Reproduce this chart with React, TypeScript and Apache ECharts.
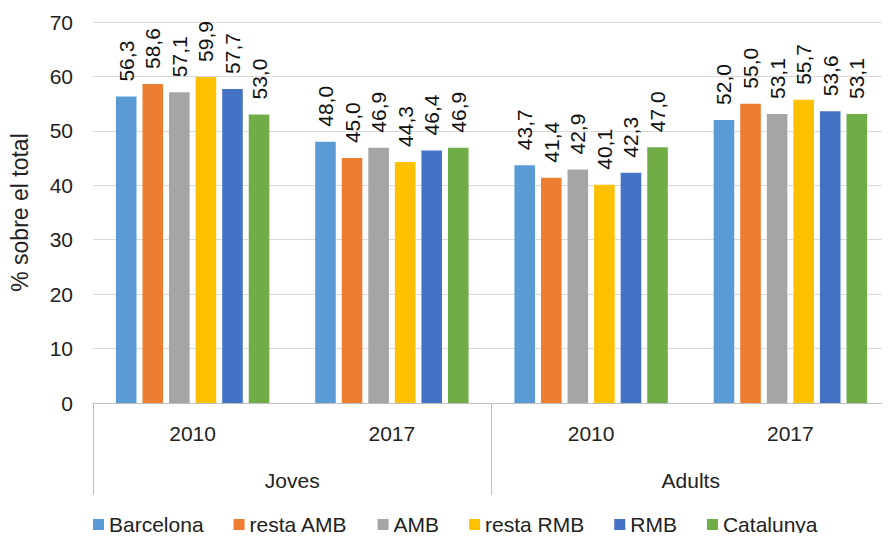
import React, { useEffect, useRef } from "react";
import * as echarts from "echarts";

const years = ["2010", "2017", "2010", "2017"];
const groups = ["Joves", "Adults"];
const seriesNames = ["Barcelona", "resta AMB", "AMB", "resta RMB", "RMB", "Catalunya"];
const colors = ["#5B9BD5", "#ED7D31", "#A5A5A5", "#FFC000", "#4472C4", "#70AD47"];
const barcelona = [56.3, 48.0, 43.7, 52.0];
const restaAMB = [58.6, 45.0, 41.4, 55.0];
const amb = [57.1, 46.9, 42.9, 53.1];
const restaRMB = [59.9, 44.3, 40.1, 55.7];
const rmb = [57.7, 46.4, 42.3, 53.6];
const catalunya = [53.0, 46.9, 47.0, 53.1];
const values = [barcelona, restaAMB, amb, restaRMB, rmb, catalunya];

const FONT = "Liberation Sans";

export default function App() {
  const ref = useRef<HTMLDivElement>(null);
  useEffect(() => {
    if (!ref.current) return;
    const chart = echarts.init(ref.current, null, { renderer: "svg" });
    chart.setOption({
      animation: false,
      textStyle: { fontFamily: FONT },
      grid: { left: 90, top: 22, width: 814, height: 381 },
      legend: {
        top: 509,
        left: 88,
        itemWidth: 11,
        itemHeight: 11,
        itemGap: 30,
        textStyle: { fontSize: 21, color: "#222", fontFamily: FONT },
        data: seriesNames.map((n) => ({ name: n, icon: "rect" })),
      },
      xAxis: [
        {
          type: "category",
          data: years,
          axisLine: { lineStyle: { color: "#BFBFBF", width: 1 } },
          axisTick: { show: false },
          axisLabel: { fontSize: 21, color: "#222", margin: 20 },
        },
        {
          type: "category",
          data: groups,
          position: "bottom",
          gridIndex: 0,
          axisLine: { show: false },
          axisTick: { show: true, length: 92, lineStyle: { color: "#BFBFBF" } },
          axisLabel: { fontSize: 21, color: "#222", margin: 67 },
        },
      ],
      yAxis: {
        type: "value",
        min: 0,
        max: 70,
        interval: 10,
        name: "% sobre el total",
        nameLocation: "middle",
        nameGap: 62,
        nameTextStyle: { fontSize: 23, color: "#222" },
        axisLine: { show: false },
        axisTick: { show: false },
        axisLabel: { fontSize: 21, color: "#222", margin: 20 },
        splitLine: { lineStyle: { color: "#D9D9D9", width: 1 } },
      },
      series: seriesNames.map((name, i) => ({
        name,
        type: "bar",
        xAxisIndex: 0,
        data: values[i],
        itemStyle: { color: colors[i] },
        barGap: "29%",
        barCategoryGap: "23%",
        label: {
          show: true,
          position: "top",
          rotate: 90,
          align: "left",
          verticalAlign: "middle",
          distance: 15,
          fontSize: 21,
          color: "#111",
          formatter: (p: any) => p.value.toFixed(1).replace(".", ","),
        },
      })),
    });
    return () => chart.dispose();
  }, []);
  return <div ref={ref} style={{ width: 890, height: 541, margin: -8 }} />;
}
